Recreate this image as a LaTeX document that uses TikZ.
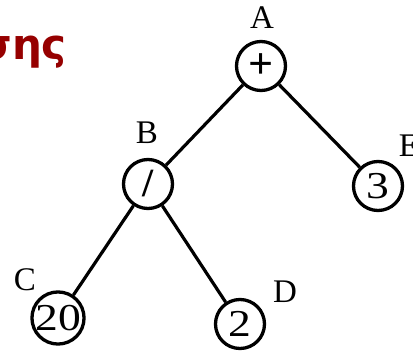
\documentclass[tikz,border=0pt]{standalone}
\usepackage{fontspec}
\setmainfont{Liberation Serif}
\newfontfamily\titlefont{DejaVu Sans}
\usetikzlibrary{positioning}
\definecolor{titlered}{RGB}{150,0,0}
\newcommand{\wide}[1]{\scalebox{1.2}[1]{#1}}

\begin{document}
\begin{tikzpicture}[
  x=1pt,y=-1pt,
  op/.style={circle,draw=black,line width=3.3pt,minimum size=49pt,inner sep=0pt,font=\fontsize{38}{38}\selectfont},
  edge/.style={line width=3.2pt},
  tag/.style={font=\fontsize{33}{33}\selectfont},
  every node/.style={text=black}
]
  \useasboundingbox (0,0) rectangle (413,354);

  % title fragment
  \node[anchor=base east,inner sep=0pt,text=titlered,font=\titlefont\bfseries\fontsize{42}{42}\selectfont] (title) at (67,59) {σης};

  % tree nodes
  \node[op] (plus) at (261,66) {\fontsize{44}{44}\selectfont\textbf{+}};
  \node[op] (div) at (148,184) {\fontsize{40}{40}\selectfont\textbf{/}};
  \node[op] (three) at (378,186) {\wide{3}};
  \node[op] (twenty) at (58,318) {\wide{20}};
  \node[op] (two) at (240,324) {\wide{2}};

  % names
  \node[tag] (A) at (262,18) {A};
  \node[tag] (B) at (147,133) {B};
  \node[tag] (E) at (409,146) {E};
  \node[tag] (C) at (25,280) {C};
  \node[tag] (D) at (285,292) {D};

  % edges
  \draw[edge] (plus) -- (div);
  \draw[edge] (plus) -- (three);
  \draw[edge] (div) -- (twenty);
  \draw[edge] (div) -- (two);
\end{tikzpicture}
\end{document}
